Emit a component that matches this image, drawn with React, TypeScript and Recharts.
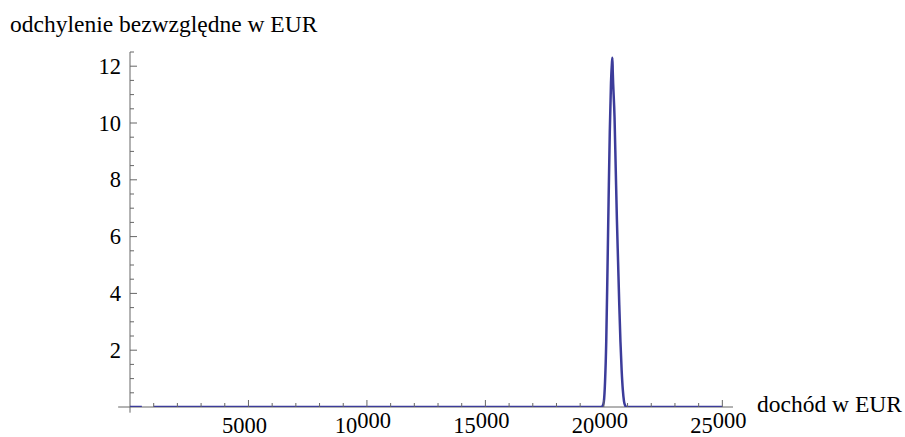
import { LineChart, Line, XAxis, YAxis, ReferenceLine } from 'recharts';

const INCOME = [
  0, 500, 750, 1000, 19900, 19950, 20000, 20050, 20100, 20150, 20200, 20250,
  20300, 20340, 20360, 20375, 20450, 20500, 20550, 20600, 20650, 20700, 20750,
  20800, 20850, 20900, 20950, 25000,
];
const DEVIATION = [
  0, 0, null, 0, 0, 0.04, 0.2, 0.9, 2.3, 4.7, 7.3, 9.7, 11.4, 12.1, 12.3, 11.8,
  10.2, 8.4, 6.6, 5.1, 3.6, 2.3, 1.3, 0.6, 0.2, 0.05, 0, 0,
];

const X_TICKS = [
  1000, 2000, 3000, 4000, 5000, 6000, 7000, 8000, 9000, 10000, 11000, 12000,
  13000, 14000, 15000, 16000, 17000, 18000, 19000, 20000, 21000, 22000, 23000,
  24000, 25000,
];
const X_LABELS = [5000, 10000, 15000, 20000, 25000];
const Y_TICKS = [
  0.5, 1, 1.5, 2, 2.5, 3, 3.5, 4, 4.5, 5, 5.5, 6, 6.5, 7, 7.5, 8, 8.5, 9, 9.5,
  10, 10.5, 11, 11.5, 12, 12.5,
];
const Y_LABELS = [2, 4, 6, 8, 10, 12];

const data = INCOME.map((x, i) => ({ x, y: DEVIATION[i] }));

const AXIS = '#666666';
const LINE = '#3c3c9a';
const FONT = 'Liberation Serif';
const textStyle = { fontFamily: FONT };

function XTick(props: any) {
  const { x, y, payload } = props;
  const v = payload.value;
  const major = X_LABELS.includes(v);
  const s = String(v);
  return (
    <g>
      <line x1={x} y1={y} x2={x} y2={y - (major ? 7 : 4)} stroke={AXIS} strokeWidth={1} />
      {major && (
        <text x={x - 4} y={y + 26} textAnchor="middle" style={textStyle} fontSize={22.5} fill="#000">
          {v >= 10000 ? (
            <>
              <tspan>{s.slice(0, 2)}</tspan>
              <tspan dy={-5}>{s.slice(2)}</tspan>
            </>
          ) : (
            s
          )}
        </text>
      )}
    </g>
  );
}

function YTick(props: any) {
  const { x, y, payload } = props;
  const v = payload.value;
  const major = Y_LABELS.includes(v);
  return (
    <g>
      <line x1={x} y1={y} x2={x + (major ? 7 : 4)} y2={y} stroke={AXIS} strokeWidth={1} />
      {major && (
        <text x={x - 9} y={y + 7.5} textAnchor="end" style={textStyle} fontSize={22.5} fill="#000">
          {v}
        </text>
      )}
    </g>
  );
}

export default function App() {
  return (
    <div style={{ position: 'absolute', left: 0, top: 0, width: 905, height: 437, background: '#fff' }}>
      <LineChart
        width={905}
        height={437}
        data={data}
        margin={{ top: 52, right: 172, bottom: 0, left: 70 }}
      >
        <XAxis
          dataKey="x"
          type="number"
          domain={[0, 25450]}
          ticks={X_TICKS}
          interval={0}
          axisLine={false}
          tickLine={false}
          tickSize={0}
          tickMargin={0}
          height={30}
          tick={XTick}
          allowDataOverflow
        />
        <YAxis
          type="number"
          domain={[0, 12.5]}
          ticks={Y_TICKS}
          interval={0}
          axisLine={false}
          tickLine={false}
          tickSize={0}
          tickMargin={0}
          width={60}
          tick={YTick}
          allowDataOverflow
        />
        <ReferenceLine
          segment={[{ x: -500, y: 0 }, { x: 25450, y: 0 }]}
          stroke={AXIS}
          strokeWidth={1}
          ifOverflow="visible"
        />
        <ReferenceLine
          segment={[{ x: 0, y: -0.2 }, { x: 0, y: 12.5 }]}
          stroke={AXIS}
          strokeWidth={1}
          ifOverflow="visible"
        />
        <Line
          type="monotone"
          dataKey="y"
          stroke={LINE}
          strokeWidth={2.5}
          dot={false}
          connectNulls={false}
          isAnimationActive={false}
        />
      </LineChart>
      <svg
        width={905}
        height={437}
        style={{ position: 'absolute', left: 0, top: 0, pointerEvents: 'none' }}
      >
        <text x={10} y={32} style={textStyle} fontSize={23.5} fill="#000">
          odchylenie bezwzględne w EUR
        </text>
        <text x={757} y={412} style={textStyle} fontSize={23.5} fill="#000">
          dochód w EUR
        </text>
      </svg>
    </div>
  );
}
